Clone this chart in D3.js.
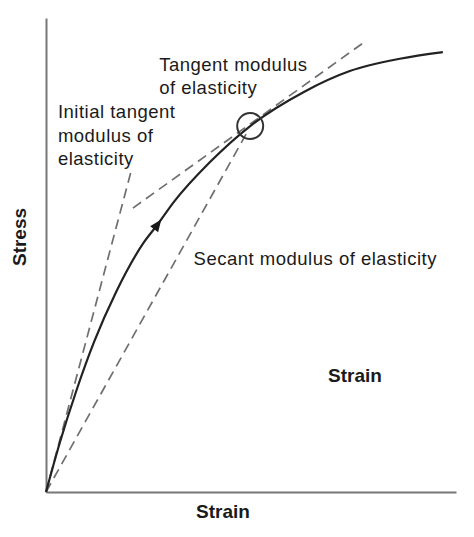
<!DOCTYPE html>
<html>
<head>
<meta charset="utf-8">
<script src="https://cdn.jsdelivr.net/npm/d3@7"></script>
<style>
  body { margin: 0; background: #fff; }
  text { font-family: Arial, "Liberation Sans", sans-serif; fill: #1a1a1a; }
</style>
</head>
<body>
<script>
// stress-strain curve (arbitrary units 0..10)
strain = [0, 0.34, 0.73, 1.17, 1.71, 2.39, 2.71, 3.12, 4.00, 4.98, 6.29, 7.41, 8.63, 9.68]
stress = [0, 1.05, 2.11, 3.16, 4.22, 5.27, 5.63, 6.12, 6.96, 7.72, 8.44, 8.88, 9.14, 9.28]

// dashed construction lines: [x1, y1, x2, y2]
initialTangent = [0, 0, 2.07, 6.75]
tangentLine = [2.12, 5.99, 7.73, 9.47]
secantLine = [0, 0, 4.88, 7.55]

// point of interest (circled) and arrow position on curve
tangentPoint = [4.98, 7.72]
arrowIndex = 6

labels = [
  {lines: ["Tangent modulus", "of elasticity"], x: 2.76, y: 8.89},
  {lines: ["Initial tangent", "modulus of", "elasticity"], x: 0.29, y: 7.89},
  {lines: ["Secant modulus of elasticity"], x: 3.6, y: 4.79},
]

margin = ({top: 18, right: 18, bottom: 45, left: 46})
width = 474
height = 537

x = d3.scaleLinear()
    .domain([0, 10])
    .range([margin.left, width - margin.right])

y = d3.scaleLinear()
    .domain([0, 10])
    .range([height - margin.bottom, margin.top])

data = strain.map((s, i) => ({strain: s, stress: stress[i]}))

const svg = d3.select("body").append("svg")
    .attr("width", width)
    .attr("height", height)
    .attr("viewBox", [0, 0, width, height]);

// axes without ticks
svg.append("g")
    .attr("transform", `translate(0,${y(0)})`)
    .call(d3.axisBottom(x).ticks(0).tickSize(0).tickSizeOuter(0))
    .call(g => g.select(".domain").attr("stroke", "#777").attr("stroke-width", 2));

svg.append("g")
    .attr("transform", `translate(${x(0)},0)`)
    .call(d3.axisLeft(y).ticks(0).tickSize(0).tickSizeOuter(0))
    .call(g => g.select(".domain").attr("stroke", "#777").attr("stroke-width", 2));

// dashed lines
svg.append("g")
    .attr("stroke", "#6f6f6f")
    .attr("stroke-width", 1.7)
    .attr("stroke-dasharray", "10,6")
    .selectAll("line")
    .data([initialTangent, tangentLine, secantLine])
    .join("line")
    .attr("x1", d => x(d[0]))
    .attr("y1", d => y(d[1]))
    .attr("x2", d => x(d[2]))
    .attr("y2", d => y(d[3]));

// main curve
const line = d3.line()
    .x(d => x(d.strain))
    .y(d => y(d.stress))
    .curve(d3.curveMonotoneX);

svg.append("path")
    .datum(data)
    .attr("fill", "none")
    .attr("stroke", "#222")
    .attr("stroke-width", 2.2)
    .attr("d", line);

// arrow head along curve
const a = data[arrowIndex - 1], b = data[arrowIndex + 1], c = data[arrowIndex];
const angle = Math.atan2(y(b.stress) - y(a.stress), x(b.strain) - x(a.strain)) * 180 / Math.PI;
svg.append("path")
    .attr("d", "M7,0L-5,-5L-5,5Z")
    .attr("fill", "#1a1a1a")
    .attr("transform", `translate(${x(c.strain)},${y(c.stress)}) rotate(${angle})`);

// circle at tangent point
svg.append("circle")
    .attr("cx", x(tangentPoint[0]))
    .attr("cy", y(tangentPoint[1]))
    .attr("r", 13)
    .attr("fill", "none")
    .attr("stroke", "#333")
    .attr("stroke-width", 2);

// annotations
svg.append("g")
    .selectAll("text")
    .data(labels)
    .join("text")
    .attr("x", d => x(d.x))
    .attr("y", d => y(d.y))
    .attr("font-size", 18.5)
    .attr("letter-spacing", 0.5)
    .selectAll("tspan")
    .data(d => d.lines.map(l => ({l, x: d.x})))
    .join("tspan")
    .attr("x", d => x(d.x))
    .attr("dy", (d, i) => i === 0 ? 0 : 23.5)
    .text(d => d.l);

svg.append("text")
    .attr("x", 328)
    .attr("y", 382)
    .attr("font-size", 19)
    .attr("font-weight", "bold")
    .text("Strain");

svg.append("text")
    .attr("x", 196)
    .attr("y", height - 19)
    .attr("font-size", 19)
    .attr("font-weight", "bold")
    .text("Strain");

svg.append("text")
    .attr("transform", `translate(26,${237}) rotate(-90)`)
    .attr("text-anchor", "middle")
    .attr("font-size", 19)
    .attr("font-weight", "bold")
    .text("Stress");
</script>
</body>
</html>
